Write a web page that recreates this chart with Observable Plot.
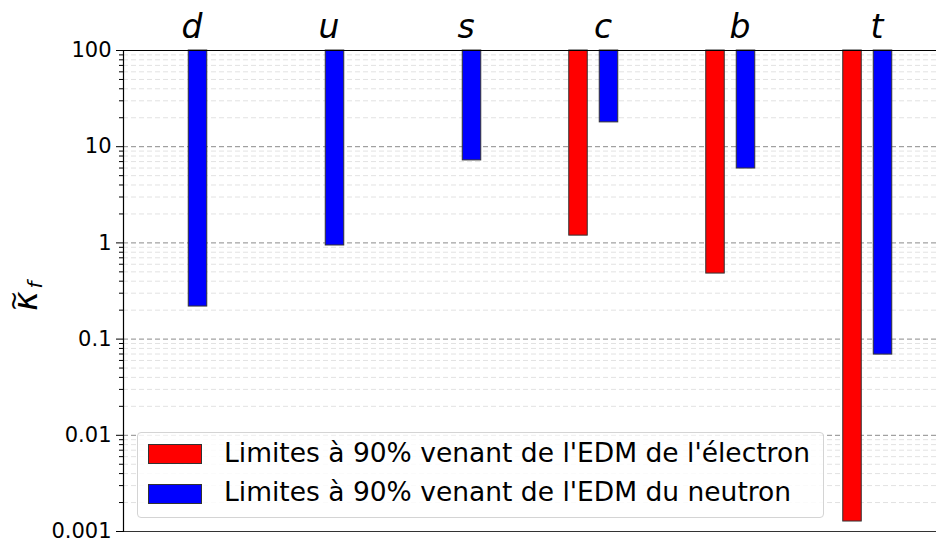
<!DOCTYPE html>
<html>
<head>
<meta charset="utf-8">
<script src="https://cdn.jsdelivr.net/npm/d3@7"></script>
<script src="https://cdn.jsdelivr.net/npm/@observablehq/plot@0.6"></script>
<style>
  html, body { margin: 0; padding: 0; background: white; }
  #wrap { position: relative; width: 936px; height: 548px; font-family: "DejaVu Sans", sans-serif; }
  #legend { position: absolute; left: 137px; top: 432px; width: 687px; height: 86px; box-sizing: border-box;
            border: 1px solid #d4d4d4; border-radius: 4px; background: rgba(255,255,255,0.85); }
  .sw { position: absolute; left: 10px; width: 54px; height: 20px; box-sizing: border-box; border: 1px solid #333; }
  .lab { position: absolute; left: 86px; font-size: 26.5px; line-height: 26.5px; white-space: nowrap; color: #000; }
</style>
</head>
<body>
<div id="wrap"></div>
<script>
const categories = ["d", "u", "s", "c", "b", "t"];
const electronValues = [null, null, null, 1.19, 0.48, 0.00127];
const neutronValues = [0.218, 0.94, 7.2, 17.9, 5.93, 0.069];
const yTicks = [100, 10, 1, 0.1, 0.01, 0.001];
const yTickLabels = ["100", "10", "1", "0.1", "0.01", "0.001"];
const minorMultipliers = [2, 3, 4, 5, 6, 7, 8, 9];
const seriesNames = ["Limites à 90% venant de l'EDM de l'électron", "Limites à 90% venant de l'EDM du neutron"];
const seriesColors = ["red", "blue"];

const minorTicks = [];
yTicks.slice(1).forEach(d => minorMultipliers.forEach(m => minorTicks.push(d * m)));

const electron = categories.map((c, i) => ({cat: c, value: electronValues[i]})).filter(d => d.value != null);
const neutron = categories.map((c, i) => ({cat: c, value: neutronValues[i]})).filter(d => d.value != null);

const plot = Plot.plot({
  width: 936,
  height: 548,
  marginLeft: 123,
  marginRight: 0,
  marginTop: 50,
  marginBottom: 17,
  style: {fontFamily: "DejaVu Sans, sans-serif", background: "white", color: "black"},
  x: {type: "band", domain: categories, range: [123, 945], padding: 0},
  y: {type: "log", domain: [0.001, 100]},
  marks: [
    Plot.ruleY(minorTicks, {stroke: "#e2e2e2", strokeDasharray: "5,3", strokeWidth: 1}),
    Plot.ruleY(yTicks, {stroke: "#8a8a8a", strokeDasharray: "5,3", strokeWidth: 1}),
    Plot.barY(electron, {x: "cat", y1: 100, y2: "value", fill: seriesColors[0], stroke: "#333", strokeWidth: 1,
      insetLeft: 34.75, insetRight: 83.75}),
    Plot.barY(neutron, {x: "cat", y1: 100, y2: "value", fill: seriesColors[1], stroke: "#333", strokeWidth: 1,
      insetLeft: 65.25, insetRight: 53.25}),
    Plot.axisY({ticks: minorTicks, tickSize: 4, tickFormat: () => "", stroke: "#000", label: null}),
    Plot.axisY({ticks: yTicks, tickSize: 7, tickPadding: 5, fontSize: 21,
      tickFormat: d => yTickLabels[yTicks.indexOf(d)], label: null}),
    Plot.axisX({anchor: "top", tickSize: 0, tickPadding: 13, fontSize: 33, fontStyle: "italic", label: null}),
    Plot.ruleY([100], {stroke: "#000", strokeWidth: 1.2}),
    Plot.ruleY([0.001], {stroke: "#333", strokeWidth: 1.2}),
    Plot.frame({anchor: "left", stroke: "#000", strokeWidth: 1.2})
  ]
});

const wrap = document.getElementById("wrap");
wrap.appendChild(plot);

// y-axis label: wide tilde over kappa, subscript f
const svg = d3.select(plot);
const g = svg.append("g")
  .attr("transform", "translate(37,298) rotate(-90)")
  .attr("font-family", "DejaVu Sans, sans-serif")
  .attr("fill", "#000");
g.append("text").attr("x", -3).attr("y", 0).attr("font-size", 33).attr("font-style", "italic").text("κ");
g.append("text").attr("x", 13).attr("y", 5).attr("font-size", 20).attr("font-style", "italic").text("f");
g.append("text").attr("x", -3).attr("y", -15).attr("font-size", 25).text("~");

// legend
const legend = document.createElement("div");
legend.id = "legend";
seriesNames.forEach((name, i) => {
  const sw = document.createElement("div");
  sw.className = "sw";
  sw.style.top = (11 + i * 39.5) + "px";
  sw.style.background = seriesColors[i];
  const lab = document.createElement("div");
  lab.className = "lab";
  lab.style.top = (6.5 + i * 39.5) + "px";
  lab.textContent = name;
  legend.appendChild(sw);
  legend.appendChild(lab);
});
wrap.appendChild(legend);
</script>
</body>
</html>
